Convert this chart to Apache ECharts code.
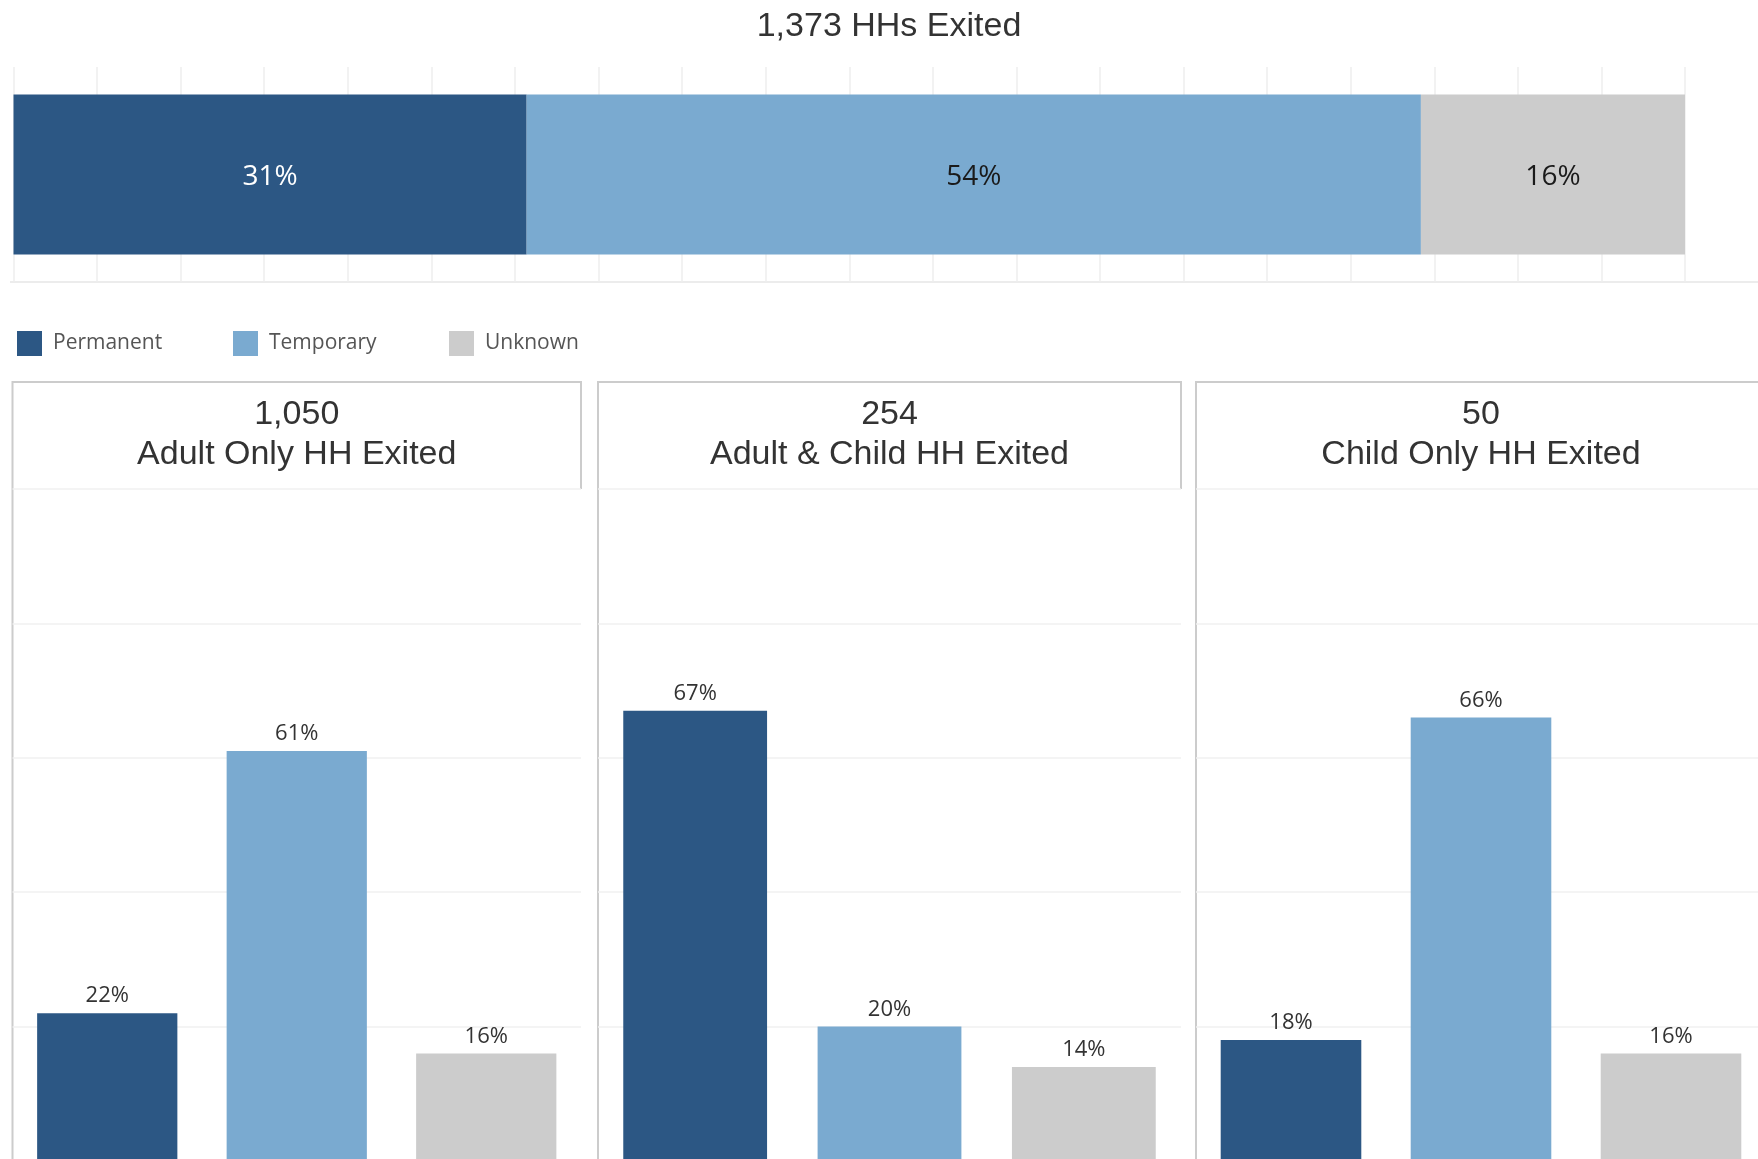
<!DOCTYPE html>
<html lang="en">
<head>
<meta charset="UTF-8">
<title>HHs Exited</title>
<script src="https://cdn.jsdelivr.net/npm/echarts@6/dist/echarts.min.js"></script>
<style>
    html, body { margin: 0; padding: 0; background: #fff; }
    #main { width: 1758px; height: 1159px; }
</style>
</head>
<body>
<div id="main"></div>
<script>
// exit destination types
var exitTypes = ['Permanent', 'Temporary', 'Unknown'];
var exitColors = ['#2c5784', '#7aaad0', '#cccccc'];

// top stacked bar: all households
var totalTitle = '1,373 HHs Exited';
var totalShares = [30.7, 53.5, 15.8];

// small panels
var panelCounts = ['1,050', '254', '50'];
var panelNames = ['Adult Only HH Exited', 'Adult & Child HH Exited', 'Child Only HH Exited'];
var panelShares = [
    [22, 61, 16],
    [67, 20, 14],
    [18, 66, 16]
];

// layout of the three panels (pixels)
var panelBox = [
    {left: 12.5, width: 568.5},
    {left: 598, width: 583},
    {left: 1196, width: 570}
];
var headerTop = 382, plotTop = 489, plotHeight = 672;

var myChart = echarts.init(document.getElementById('main'));

var grids = [{left: 13.5, top: 67, width: 1671.5, height: 215, outerBoundsMode: 'none'}];
var xAxes = [{
    type: 'value', gridIndex: 0, min: 0, max: 100, interval: 5,
    axisLabel: {show: false}, axisLine: {show: false}, axisTick: {show: false},
    splitLine: {show: true, lineStyle: {color: '#eeeeee', width: 1.5}}
}];
var yAxes = [{
    type: 'category', gridIndex: 0, data: ['All'],
    axisLabel: {show: false}, axisLine: {show: false}, axisTick: {show: false}
}];
var series = [];
var titles = [{
    text: totalTitle, left: 889, top: 10, textAlign: 'center', padding: 0,
    textStyle: {fontFamily: 'Liberation Sans', fontSize: 34, fontWeight: 'normal', color: '#333'}
}];
var graphics = [{
    type: 'line', shape: {x1: 10, y1: 282, x2: 1758, y2: 282},
    style: {stroke: '#e6e6e6', lineWidth: 1.5}, silent: true
}];

// top stacked bar
exitTypes.forEach(function (name, k) {
    series.push({
        type: 'bar', name: name, stack: 'all',
        xAxisIndex: 0, yAxisIndex: 0, barWidth: 160,
        data: [totalShares[k]],
        itemStyle: {color: exitColors[k]},
        label: {
            show: true, position: 'inside', offset: [0, 3],
            formatter: function (p) { return Math.round(p.value) + '%'; },
            fontFamily: 'Open Sans', fontSize: 28,
            color: k === 0 ? '#ffffff' : '#1a1a1a'
        }
    });
});

// three panels
panelBox.forEach(function (box, i) {
    var gi = i + 1;
    grids.push({left: box.left, top: plotTop, width: box.width, height: plotHeight, outerBoundsMode: 'none'});
    xAxes.push({
        type: 'category', gridIndex: gi, data: exitTypes,
        axisLabel: {show: false}, axisLine: {show: false}, axisTick: {show: false}
    });
    yAxes.push({
        type: 'value', gridIndex: gi, min: 0, max: 100, interval: 20,
        axisLabel: {show: false}, axisLine: {show: false}, axisTick: {show: false},
        splitLine: {show: true, lineStyle: {color: '#f0f0f0', width: 1.5}}
    });
    series.push({
        type: 'bar', name: panelNames[i],
        xAxisIndex: gi, yAxisIndex: gi, barWidth: '74%',
        data: panelShares[i].map(function (v, k) {
            return {value: v, itemStyle: {color: exitColors[k]}};
        }),
        label: {
            show: true, position: 'top', distance: 6,
            formatter: '{c}%',
            fontFamily: 'Open Sans', fontSize: 22, color: '#333'
        }
    });
    titles.push({
        text: panelCounts[i] + '\n' + panelNames[i],
        left: box.left + box.width / 2, top: 395, textAlign: 'center', padding: 0,
        textStyle: {fontFamily: 'Liberation Sans', fontSize: 34, fontWeight: 'normal',
            color: '#333', lineHeight: 40}
    });
    var right = box.left + box.width;
    graphics.push({
        type: 'polyline', silent: true,
        shape: {points: [[box.left, 1159], [box.left, headerTop], [right, headerTop], [right, plotTop]]},
        style: {stroke: '#cccccc', lineWidth: 2, fill: null}
    });
});

var legends = exitTypes.map(function (name, k) {
    return {
        left: 17 + 216 * k, top: 331, padding: 0,
        icon: 'rect', itemWidth: 25, itemHeight: 25,
        selectedMode: false, data: [name],
        textStyle: {fontFamily: 'Open Sans', fontSize: 21, color: '#555', padding: [13, 0, 0, 6]}
    };
});

var option = {
    animation: false,
    backgroundColor: '#ffffff',
    title: titles,
    legend: legends,
    grid: grids,
    xAxis: xAxes,
    yAxis: yAxes,
    series: series,
    graphic: graphics
};

myChart.setOption(option);
</script>
</body>
</html>
